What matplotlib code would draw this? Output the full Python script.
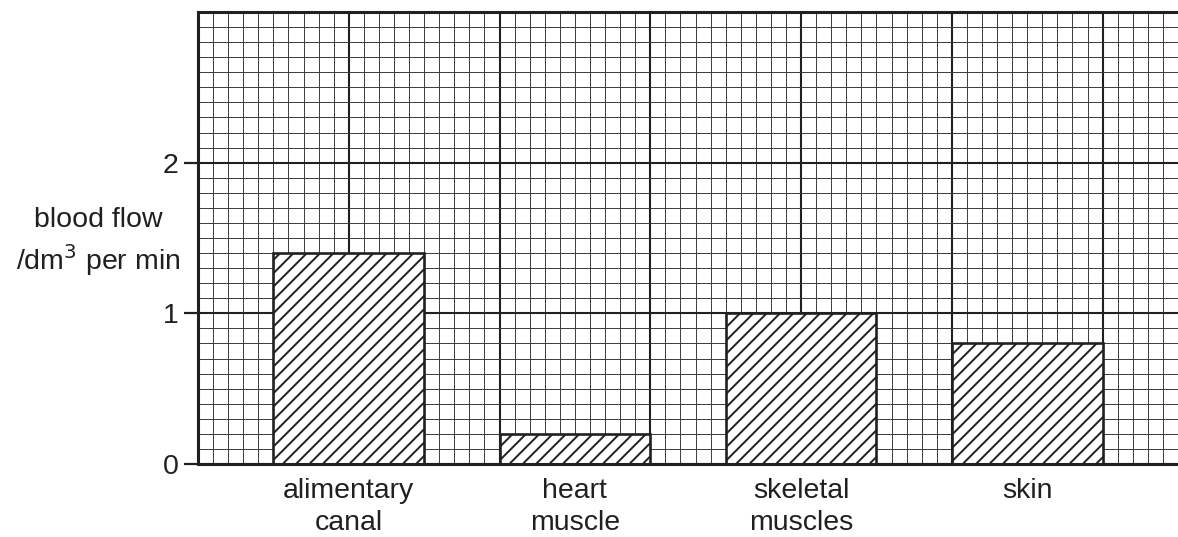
import numpy as np
import matplotlib
matplotlib.use('Agg')
import matplotlib.pyplot as plt

# данные
organs = ['alimentary\ncanal', 'heart\nmuscle', 'skeletal\nmuscles', 'skin']
blood_flow = [1.4, 0.2, 1.0, 0.8]  # dm3 per min
y_ticks = [0, 1, 2]

# dpi 80 даёт шаг штриховки '//' как в оригинале; размеры в pt пересчитаны
DPI = 80
s = 100 / DPI

plt.rcParams['font.family'] = ['Liberation Sans', 'DejaVu Sans']
plt.rcParams['hatch.linewidth'] = 1.4 * s
ink = '#231f20'

fig = plt.figure(figsize=(1178 / DPI, 537 / DPI), dpi=DPI)
ax = fig.add_axes([198 / 1178, 73 / 537, 980 / 1178, 452 / 537])

# миллиметровка: 10 клеток на единицу по y, по x клетки того же размера
x_max = 65
ax.set_xlim(0, x_max)
ax.set_ylim(0, 3)
for i in range(x_max + 1):
    major = i % 10 == 0
    ax.axvline(i, color=ink if major else '#3a3a3a',
               lw=(1.5 if major else 0.7) * s, zorder=0.5)
for k in range(31):
    major = k % 10 == 0
    ax.axhline(k / 10, color=ink if major else '#3a3a3a',
               lw=(1.5 if major else 0.7) * s, zorder=0.5)

# столбцы
pos = 10 + 15 * np.arange(len(organs))
ax.bar(pos, blood_flow, width=10, facecolor='white', edgecolor=ink,
       linewidth=1.9 * s, hatch='//', zorder=2)

fs = 20.5 * s
ax.set_xticks(pos)
ax.set_xticklabels(organs, fontsize=fs, color=ink, linespacing=1.3)
ax.tick_params(axis='x', length=0, pad=10 * s)
ax.set_yticks(y_ticks)
ax.set_yticklabels([str(t) for t in y_ticks], fontsize=fs, color=ink)
ax.tick_params(axis='y', length=10 * s, width=1.6 * s, color=ink, pad=4 * s)

for side in ['left', 'bottom', 'top']:
    ax.spines[side].set_linewidth(2.2 * s)
    ax.spines[side].set_color(ink)
    ax.spines[side].set_zorder(3)
ax.spines['right'].set_visible(False)

ax.text(-0.102, 0.49, 'blood flow\n/dm$^3$ per min', transform=ax.transAxes,
        ha='center', va='center', multialignment='center', fontsize=fs,
        color=ink, linespacing=1.3)

fig.savefig('out.png', dpi=DPI)
